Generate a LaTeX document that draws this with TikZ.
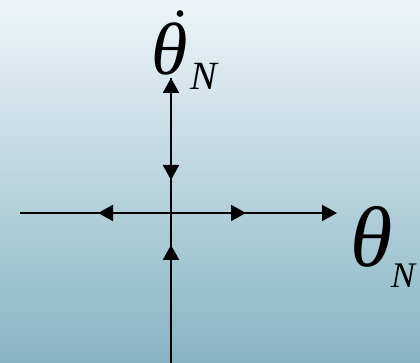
\documentclass[tikz,border=0pt]{standalone}
\usepackage{fontspec}
\setmainfont{Liberation Serif}
\usetikzlibrary{arrows.meta}

\begin{document}
\begin{tikzpicture}[x = 1pt, y = 1pt,
    axis/.style = {draw, line width = 2pt},
    arr/.style = {-{Triangle[length = 15pt, width = 16pt]}},
    lbl/.style = {inner sep = 0pt, font = \itshape}]
            %背景
            \shade[top color = {rgb,255:red,238;green,245;blue,248}, middle color = {rgb,255:red,200;green,221;blue,229}, bottom color = {rgb,255:red,134;green,180;blue,196}](0,0)rectangle(420,363);
            \useasboundingbox(0,0)rectangle(420,363);
            \coordinate(O)at(171,150);
            \coordinate(L)at(20,150);
            \coordinate(R)at(337,150);
            \coordinate(T)at(171,285);
            \coordinate(B)at(171,0);
            %軸
            \path[axis,arr](L)to(R);
            \path[axis,arr](B)to(T);
            %流れの向き
            \coordinate(Lm)at(98,150);
            \coordinate(Rm)at(246,150);
            \coordinate(Tm)at(171,183);
            \coordinate(Bm)at(171,118);
            \path[axis,arr](O)to(Lm);
            \path[axis,arr](O)to(Rm);
            \path[axis,arr](T)to(Tm);
            \path[axis,arr](B)to(Bm);
            %ラベル
            \node[lbl, anchor = base, font = \itshape\fontsize{74}{74}\selectfont](thv)at(170,288){θ};
            \node[lbl, anchor = center, font = \fontsize{56}{56}\selectfont](dotv)at(180,349){.};
            \node[lbl, anchor = base west, font = \itshape\fontsize{40}{40}\selectfont](Nv)at(190,273){N};
            \node[lbl, anchor = base, font = \itshape\fontsize{86}{86}\selectfont](thh)at(372,96){θ};
            \node[lbl, anchor = base west, font = \itshape\fontsize{36}{36}\selectfont](Nh)at(391,75){N};
        \end{tikzpicture}
\end{document}
